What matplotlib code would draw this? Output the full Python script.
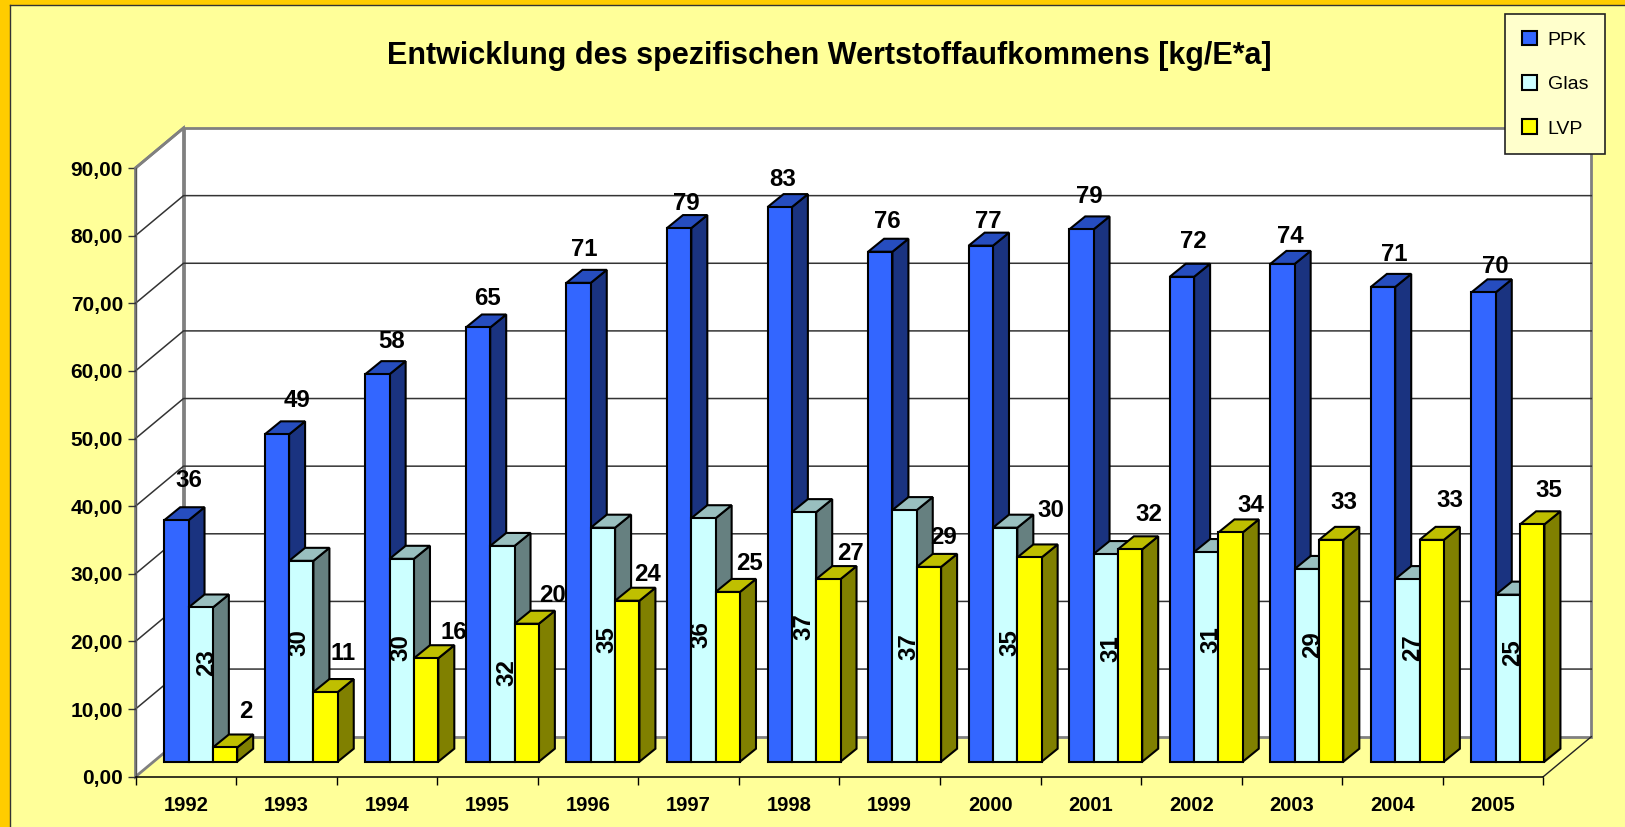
import numpy as np
import matplotlib
matplotlib.use("Agg")
import matplotlib.pyplot as plt
from matplotlib.patches import Patch, Polygon, Rectangle

plt.rcParams['font.family'] = ['Liberation Sans', 'DejaVu Sans']

years = list(range(1992, 2006))

# Balkenhöhen
ppk = [35.7, 48.4, 57.3, 64.2, 70.8, 78.9, 82.0, 75.4, 76.3, 78.7, 71.7, 73.6, 70.2, 69.4]
glas = [22.8, 29.7, 30.0, 31.9, 34.6, 36.0, 36.9, 37.2, 34.6, 30.7, 31.0, 28.5, 27.0, 24.7]
lvp = [2.1, 10.3, 15.3, 20.4, 23.8, 25.1, 27.0, 28.8, 30.2, 31.4, 33.9, 32.8, 32.8, 35.1]

# Beschriftungen wie im Original
ppk_labels = [36, 49, 58, 65, 71, 79, 83, 76, 77, 79, 72, 74, 71, 70]
glas_labels = [23, 30, 30, 32, 35, 36, 37, 37, 35, 31, 31, 29, 27, 25]
lvp_labels = [2, 11, 16, 20, 24, 25, 27, 29, 30, 32, 34, 33, 33, 35]

# Versatz der Beschriftungen in Pixeln (von linker oberer Balkenecke)
ppk_dx = [25, 32, 26, 22, 18, 19, 15, 19, 20, 20, 24, 20, 23, 24]
ppk_dy = [40, 34, 33, 29, 33, 25, 28, 30, 24, 33, 35, 27, 32, 26]
glas_dx = [18, 10, 11, 17, 16, 10, 12, 16, 17, 17, 17, 18, 17, 17]
glas_dy = [-55, -82, -89, -127, -112, -116, -114, -137, -115, -95, -88, -76, -69, -58]
lvp_dx = [33, 30, 40, 38, 32, 34, 34, 27, 34, 31, 32, 25, 30, 29]
lvp_dy = [36, 39, 26, 28, 26, 28, 26, 29, 47, 35, 27, 37, 39, 34]

W, H = 1625, 827
LEFT, RIGHT, BOTTOM, TOP = 135.5, 1543.3, 776.7, 168.0
PX_X = (RIGHT - LEFT) / 14
PX_Y = (BOTTOM - TOP) / 90

# 3D-Versatz in Datenkoordinaten
wall_dx, wall_dy = 48 / PX_X, 40 / PX_Y
bar_dx, bar_dy = 16 / PX_X, 13 / PX_Y
bar_w = 24.33 / PX_X
bar_start = 28.7 / PX_X
bar_base = 15 / PX_Y

YELLOW = '#FFFF99'
series = [
    (ppk, ppk_labels, ppk_dx, ppk_dy, 0, ('#3366FF', '#264DBF', '#1A3380')),
    (glas, glas_labels, glas_dx, glas_dy, 90, ('#CCFFFF', '#99BFBF', '#668080')),
    (lvp, lvp_labels, lvp_dx, lvp_dy, 0, ('#FFFF00', '#BFBF00', '#808000')),
]

fig = plt.figure(figsize=(W / 100, H / 100), dpi=100, facecolor=YELLOW)

# Orangefarbener Rand links und oben
fig.add_artist(Rectangle((0, 0), 10 / W, 1, transform=fig.transFigure, fc='#FFCC00', ec='none'))
fig.add_artist(Rectangle((0, 1 - 5 / H), 1, 5 / H, transform=fig.transFigure, fc='#FFCC00', ec='none'))
fig.add_artist(plt.Line2D([10 / W, 10 / W], [0, 1 - 5 / H], color='#333333', lw=1))
fig.add_artist(plt.Line2D([10 / W, 1], [1 - 5 / H, 1 - 5 / H], color='#333333', lw=1))

ax = fig.add_axes([LEFT / W, 1 - BOTTOM / H, (RIGHT - LEFT) / W, (BOTTOM - TOP) / H])
ax.patch.set_visible(False)
ax.set_xlim(0, 14)
ax.set_ylim(0, 90)

# Rückwand und Seitenwand
ax.add_patch(Polygon([(wall_dx, wall_dy), (14 + wall_dx, wall_dy), (14 + wall_dx, 90 + wall_dy),
                      (wall_dx, 90 + wall_dy)], fc='white', ec='#808080', lw=2, clip_on=False, zorder=1))
ax.add_patch(Polygon([(0, 0), (wall_dx, wall_dy), (wall_dx, 90 + wall_dy), (0, 90)],
                     fc='white', ec='#808080', lw=2, clip_on=False, zorder=1))
for v in range(10, 90, 10):
    ax.plot([0, wall_dx, 14 + wall_dx], [v, v + wall_dy, v + wall_dy], color='#333333', lw=1.1,
            clip_on=False, zorder=2)
ax.plot([14, 14 + wall_dx], [0, wall_dy], color='#222222', lw=1, clip_on=False, zorder=2)
ax.plot([0, wall_dx], [90, 90 + wall_dy], color='#808080', lw=2, clip_on=False, zorder=2)

# Balken von links nach rechts, damit die Seitenflächen korrekt verdeckt werden
for i, year in enumerate(years):
    z = 5 + i
    for k, (vals, labs, dxs, dys, rot, cols) in enumerate(series):
        x0 = i + bar_start + k * bar_w
        x1 = x0 + bar_w
        top = bar_base + vals[i]
        ax.add_patch(Polygon([(x1, bar_base), (x1 + bar_dx, bar_base + bar_dy),
                              (x1 + bar_dx, top + bar_dy), (x1, top)],
                             fc=cols[2], ec='black', lw=1.5, clip_on=False, zorder=z))
        ax.add_patch(Polygon([(x0, top), (x0 + bar_dx, top + bar_dy),
                              (x1 + bar_dx, top + bar_dy), (x1, top)],
                             fc=cols[1], ec='black', lw=1.5, clip_on=False, zorder=z))
        ax.bar(x0, vals[i], width=bar_w, bottom=bar_base, align='edge', color=cols[0],
               edgecolor='black', linewidth=1.5, clip_on=False, zorder=z)
    for k, (vals, labs, dxs, dys, rot, cols) in enumerate(series):
        x0 = i + bar_start + k * bar_w
        ax.annotate(str(labs[i]), xy=(x0, bar_base + vals[i]), xytext=(dxs[i], dys[i]),
                    textcoords='offset pixels', ha='center', va='center', rotation=rot,
                    fontsize=17.3, fontweight='bold', color='black', zorder=z + 0.5,
                    annotation_clip=False)

# Achsen
for side in ['top', 'right']:
    ax.spines[side].set_visible(False)
ax.spines['left'].set_color('#555555')
ax.spines['left'].set_linewidth(1)
ax.spines['left'].set_zorder(3)
ax.spines['bottom'].set_color('black')
ax.spines['bottom'].set_linewidth(1.1)
ax.spines['bottom'].set_zorder(3)

ax.set_yticks(np.arange(0, 100, 10))
ax.set_yticklabels(['%d,00' % v for v in range(0, 100, 10)], fontsize=15, fontweight='bold')
ax.set_xticks(np.arange(0, 15))
ax.set_xticklabels([])
ax.set_xticks(np.arange(14) + 0.5, minor=True)
ax.set_xticklabels([str(y) for y in years], minor=True, fontsize=14.5, fontweight='bold')
ax.tick_params(axis='y', length=6, width=1, color='#333333', pad=3)
ax.tick_params(axis='x', which='major', length=6, width=1, color='black')
ax.tick_params(axis='x', which='minor', length=0, pad=14)

fig.text(829 / W, 1 - 56 / H, 'Entwicklung des spezifischen Wertstoffaufkommens [kg/E*a]',
         ha='center', va='center', fontsize=22, fontweight='bold')

# Legende
handles = [Patch(fc=s[5][0], ec='black', lw=1.5) for s in series]
leg = ax.legend(handles, ['PPK', 'Glas', 'LVP'], loc='upper left',
                bbox_to_anchor=(1505 / W, 1 - 14 / H), bbox_transform=fig.transFigure,
                fontsize=14, frameon=True, fancybox=False, framealpha=1,
                facecolor='#FFFFCC', edgecolor='#222222', handlelength=0.8, handleheight=0.8,
                handletextpad=0.55, labelspacing=1.35, borderpad=0.85, borderaxespad=0)
leg.set_zorder(100)
leg.get_frame().set_linewidth(1.2)

fig.savefig('out.png', dpi=100)
